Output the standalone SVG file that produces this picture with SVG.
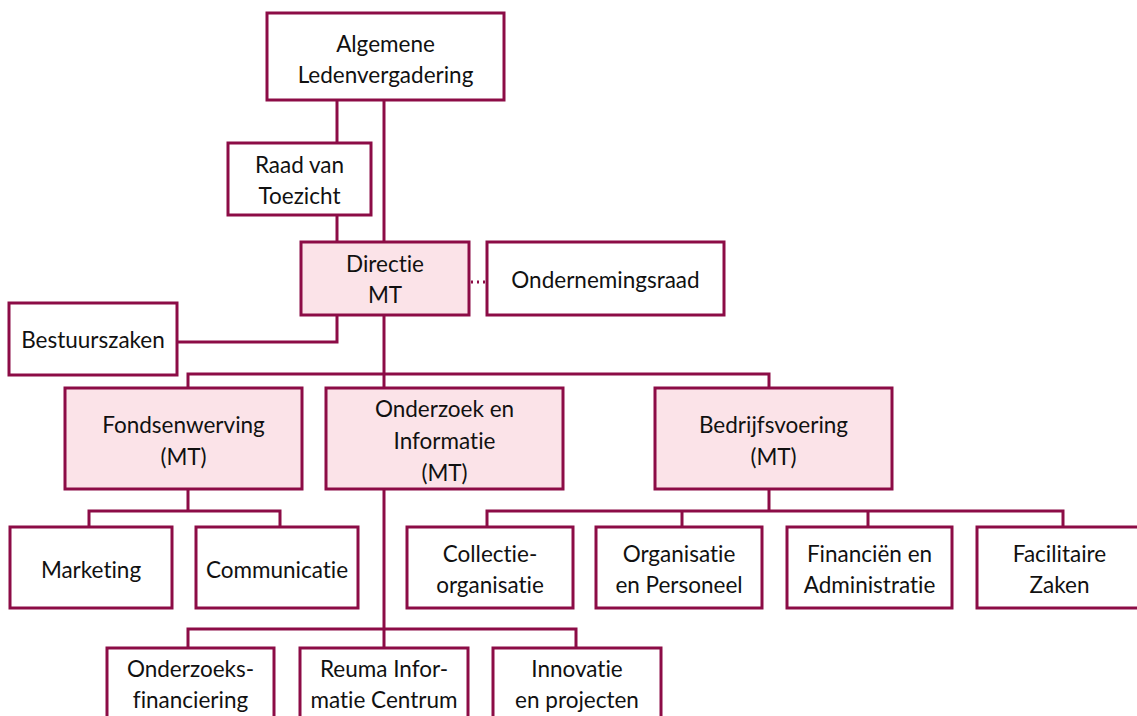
<svg xmlns="http://www.w3.org/2000/svg" width="1137" height="716" viewBox="0 0 1137 716">
<style>
.b{fill:#ffffff;stroke:#8c0c46;stroke-width:3}
.p{fill:#fbe3e8;stroke:#8c0c46;stroke-width:3}
.c{fill:none;stroke:#8c0c46;stroke-width:3}
.d{fill:none;stroke:#8c0c46;stroke-width:3;stroke-dasharray:2 4}
text{font-family:Lato,"Noto Sans",sans-serif;font-size:22.5px;fill:#111;text-anchor:middle;font-variant-ligatures:none}
</style>
<rect width="1137" height="716" fill="#ffffff"/>
<g id="connectors">
<path class="c" d="M337,100V242"/>
<path class="c" d="M384,100V242"/>
<path class="c" d="M384,315V388"/>
<path class="c" d="M337,315V342H177"/>
<path class="c" d="M188,388V374H769V388"/>
<path class="c" d="M188,489V511M89,527V511H280V527"/>
<path class="c" d="M769,489V511M487,527V511H1063V527M682,511V527M868,511V527"/>
<path class="c" d="M384,489V648M188,648V629H576V648"/>
<path class="d" d="M471,282H487"/>
</g>
<g id="alv"><rect class="b" x="267" y="13" width="237" height="87"/><text x="385.5" y="52">Algemene</text><text x="385.5" y="83">Ledenvergadering</text></g>
<g id="rvt"><rect class="b" x="228" y="143" width="143" height="72"/><text x="299.5" y="173">Raad van</text><text x="299.5" y="204">Toezicht</text></g>
<g id="directie"><rect class="p" x="301" y="242" width="168" height="73"/><text x="385" y="272">Directie</text><text x="385" y="303">MT</text></g>
<g id="or"><rect class="b" x="487" y="242" width="237" height="73"/><text x="605.5" y="288">Ondernemingsraad</text></g>
<g id="bestuurszaken"><rect class="b" x="9" y="303" width="168" height="72"/><text x="93" y="348">Bestuurszaken</text></g>
<g id="fondsenwerving"><rect class="p" x="65" y="388" width="237" height="101"/><text x="183.5" y="433">Fondsenwerving</text><text x="183.5" y="465">(MT)</text></g>
<g id="onderzoek"><rect class="p" x="326" y="388" width="237" height="101"/><text x="444.5" y="417">Onderzoek en</text><text x="444.5" y="449">Informatie</text><text x="444.5" y="481">(MT)</text></g>
<g id="bedrijfsvoering"><rect class="p" x="655" y="388" width="237" height="101"/><text x="773.5" y="433">Bedrijfsvoering</text><text x="773.5" y="465">(MT)</text></g>
<g id="marketing"><rect class="b" x="10" y="527" width="162" height="81"/><text x="91" y="578">Marketing</text></g>
<g id="communicatie"><rect class="b" x="196" y="527" width="162" height="81"/><text x="277" y="578">Communicatie</text></g>
<g id="collectie"><rect class="b" x="407" y="527" width="166" height="81"/><text x="490" y="562">Collectie-</text><text x="490" y="593">organisatie</text></g>
<g id="organisatie"><rect class="b" x="596" y="527" width="166" height="81"/><text x="679" y="562">Organisatie</text><text x="679" y="593">en Personeel</text></g>
<g id="financien"><rect class="b" x="787" y="527" width="165" height="81"/><text x="869.5" y="562">Financiën en</text><text x="869.5" y="593">Administratie</text></g>
<g id="facilitaire"><rect class="b" x="977" y="527" width="165" height="81"/><text x="1059.5" y="562">Facilitaire</text><text x="1059.5" y="593">Zaken</text></g>
<g id="onderzoeksfin"><rect class="b" x="107" y="648" width="167" height="80"/><text x="190.5" y="677">Onderzoeks-</text><text x="190.5" y="708">financiering</text></g>
<g id="ric"><rect class="b" x="300" y="648" width="168" height="80"/><text x="384" y="677">Reuma Infor-</text><text x="384" y="708">matie Centrum</text></g>
<g id="innovatie"><rect class="b" x="493" y="648" width="168" height="80"/><text x="577" y="677">Innovatie</text><text x="577" y="708">en projecten</text></g>
</svg>
